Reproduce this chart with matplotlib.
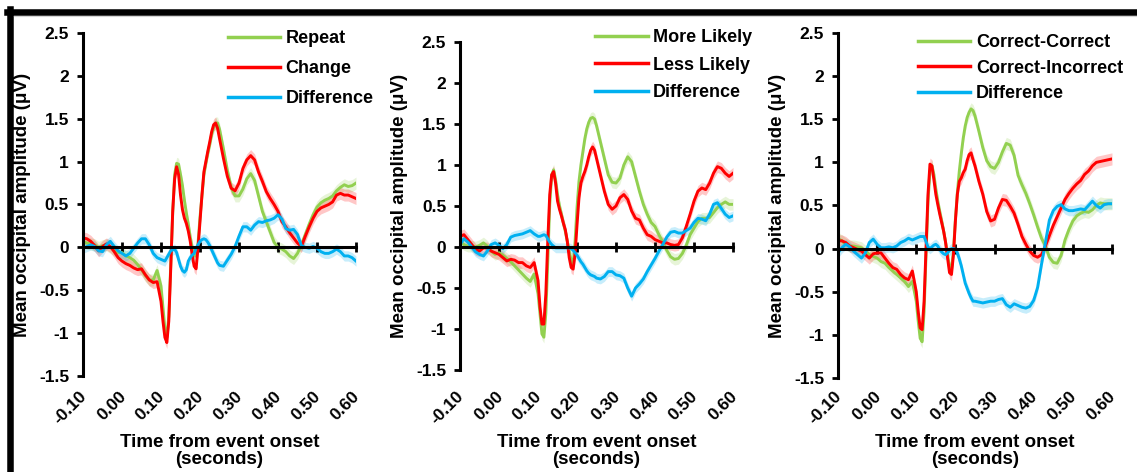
import numpy as np
import matplotlib.pyplot as plt
import matplotlib.transforms as mtransforms
from matplotlib.lines import Line2D

plt.rcParams['font.family'] = ['Liberation Sans', 'DejaVu Sans']
plt.rcParams['font.weight'] = 'bold'

# time axis (s): 10 ms steps, 5 ms steps over the fast early components
time = np.concatenate([np.arange(-100, 100, 10),
                       np.arange(100, 250, 5),
                       np.arange(250, 601, 10)]) / 1000.

# ---- panel 1: Repeat / Change ----
repeat = [0.07, 0.05, 0.04, 0.03, 0.0, 0.02, 0.03, 0.0, -0.03, -0.06,
          -0.06, -0.1, -0.12, -0.15, -0.2, -0.26, -0.33, -0.38, -0.38, -0.27,
          -0.45, -0.7, -0.95, -1.05, -0.8, -0.2, 0.4, 0.85, 0.98, 0.97,
          0.85, 0.72, 0.55, 0.4, 0.27, 0.12, 0.0, -0.1, -0.1, 0.05,
          0.35, 0.6, 0.85, 0.98, 1.1, 1.2, 1.32, 1.4, 1.45, 1.45,
          1.38, 1.15, 0.9, 0.7, 0.6, 0.6, 0.68, 0.8, 0.86, 0.78,
          0.6, 0.42, 0.3, 0.18, 0.06, 0.0, -0.02, -0.05, -0.1, -0.13,
          -0.07, 0.03, 0.15, 0.27, 0.38, 0.47, 0.52, 0.55, 0.57, 0.6,
          0.66, 0.7, 0.73, 0.71, 0.72, 0.75]
change = [0.11, 0.1, 0.07, 0.02, -0.04, 0.01, 0.04, 0.01, -0.05, -0.12,
          -0.16, -0.19, -0.21, -0.24, -0.26, -0.25, -0.32, -0.38, -0.41, -0.4,
          -0.63, -0.86, -1.05, -1.11, -0.86, -0.24, 0.42, 0.8, 0.94, 0.85,
          0.61, 0.44, 0.34, 0.28, 0.19, 0.07, -0.09, -0.22, -0.25, 0.0,
          0.3, 0.61, 0.88, 1.0, 1.12, 1.23, 1.35, 1.43, 1.45, 1.39,
          1.27, 1.04, 0.83, 0.69, 0.66, 0.75, 0.92, 1.02, 1.07, 1.02,
          0.88, 0.77, 0.65, 0.57, 0.5, 0.42, 0.3, 0.24, 0.17, 0.11,
          0.05, 0.01, 0.13, 0.24, 0.34, 0.42, 0.46, 0.48, 0.5, 0.53,
          0.61, 0.63, 0.61, 0.61, 0.59, 0.57]
diff_rc = [-0.01, 0.01, 0.03, 0.01, -0.04, -0.05, 0.03, 0.07, 0.01, -0.04,
           -0.07, -0.1, -0.07, -0.01, 0.05, 0.1, 0.1, 0.03, -0.07, -0.12,
           -0.14, -0.15, -0.16, -0.12, -0.08, -0.04, -0.03, -0.02, -0.06, -0.14,
           -0.22, -0.27, -0.29, -0.26, -0.16, -0.12, -0.09, -0.07, -0.01, 0.03,
           0.07, 0.09, 0.1, 0.09, 0.06, 0.02, -0.03, -0.08, -0.13, -0.18,
           -0.21, -0.22, -0.15, -0.08, 0.01, 0.13, 0.24, 0.24, 0.2, 0.26,
           0.3, 0.29, 0.31, 0.32, 0.34, 0.38, 0.33, 0.22, 0.2, 0.21,
           0.15, 0.02, 0.0, -0.01, 0.01, -0.01, -0.05, -0.07, -0.07, -0.05,
           -0.02, -0.05, -0.1, -0.1, -0.12, -0.16]

# ---- panel 2: More Likely / Less Likely ----
more_likely = [0.07, 0.03, 0.01, 0.01, 0.0, 0.02, 0.05, 0.01, -0.05, -0.09,
               -0.07, -0.1, -0.14, -0.18, -0.23, -0.28, -0.33, -0.38, -0.42, -0.33,
               -0.57, -0.81, -1.06, -1.1, -0.81, -0.17, 0.52, 0.88, 0.94, 0.82,
               0.64, 0.5, 0.4, 0.29, 0.19, 0.07, -0.05, -0.17, -0.21, 0.07,
               0.48, 0.8, 1.0, 1.16, 1.32, 1.44, 1.52, 1.57, 1.58, 1.56,
               1.48, 1.28, 1.08, 0.88, 0.79, 0.78, 0.84, 1.0, 1.1, 1.04,
               0.86, 0.68, 0.52, 0.4, 0.3, 0.25, 0.15, 0.06, -0.04, -0.12,
               -0.15, -0.14, -0.08, 0.02, 0.15, 0.23, 0.31, 0.35, 0.35, 0.36,
               0.42, 0.48, 0.52, 0.55, 0.52, 0.52]
less_likely = [0.13, 0.15, 0.09, 0.03, -0.03, -0.05, -0.01, -0.01, -0.05, -0.07,
               -0.09, -0.13, -0.17, -0.15, -0.16, -0.19, -0.19, -0.23, -0.25, -0.19,
               -0.41, -0.73, -0.94, -0.94, -0.57, 0.07, 0.64, 0.88, 0.92, 0.78,
               0.56, 0.46, 0.38, 0.29, 0.21, 0.07, -0.13, -0.25, -0.27, -0.09,
               0.27, 0.6, 0.78, 0.86, 0.92, 1.0, 1.1, 1.18, 1.22, 1.18,
               1.08, 0.88, 0.68, 0.52, 0.46, 0.5, 0.6, 0.64, 0.58, 0.44,
               0.35, 0.33, 0.23, 0.15, 0.13, 0.09, 0.07, 0.05, 0.05, 0.03,
               0.02, 0.03, 0.11, 0.25, 0.4, 0.56, 0.68, 0.72, 0.7, 0.78,
               0.9, 0.98, 0.96, 0.9, 0.86, 0.9]
diff_ml = [0.03, 0.1, 0.06, 0.0, -0.06, -0.09, -0.11, -0.05, 0.03, 0.05,
           0.02, -0.02, 0.03, 0.12, 0.14, 0.15, 0.16, 0.18, 0.2, 0.16,
           0.13, 0.13, 0.14, 0.15, 0.14, 0.1, 0.06, 0.03, 0.01, -0.01,
           -0.01, -0.01, -0.01, -0.01, -0.01, -0.01, -0.01, -0.02, -0.04, -0.07,
           -0.1, -0.14, -0.18, -0.21, -0.25, -0.29, -0.32, -0.34, -0.35, -0.36,
           -0.38, -0.39, -0.36, -0.3, -0.3, -0.34, -0.35, -0.38, -0.5, -0.6,
           -0.5, -0.45, -0.39, -0.3, -0.22, -0.14, -0.05, 0.03, 0.12, 0.18,
           0.19, 0.17, 0.17, 0.2, 0.23, 0.3, 0.35, 0.34, 0.32, 0.4,
           0.52, 0.54, 0.47, 0.4, 0.36, 0.38]

# ---- panel 3: Correct-Correct / Correct-Incorrect ----
corr_corr = [0.12, 0.09, 0.05, 0.03, 0.03, 0.02, 0.01, -0.03, -0.07, -0.09,
             -0.11, -0.15, -0.17, -0.22, -0.26, -0.3, -0.34, -0.38, -0.44, -0.38,
             -0.61, -0.84, -1.04, -1.08, -0.73, -0.07, 0.55, 0.9, 0.96, 0.86,
             0.69, 0.55, 0.43, 0.32, 0.2, 0.07, -0.07, -0.22, -0.24, -0.03,
             0.34, 0.65, 0.9, 1.1, 1.28, 1.42, 1.52, 1.58, 1.62, 1.6,
             1.54, 1.36, 1.17, 1.02, 0.95, 0.93, 1.0, 1.12, 1.22, 1.2,
             1.08, 0.85, 0.74, 0.64, 0.52, 0.39, 0.25, 0.12, 0.03, -0.1,
             -0.16, -0.17, -0.08, 0.1, 0.22, 0.32, 0.38, 0.41, 0.43, 0.42,
             0.45, 0.5, 0.53, 0.52, 0.52, 0.52]
corr_incorr = [0.09, 0.09, 0.07, 0.03, 0.01, -0.01, -0.03, -0.07, -0.11, -0.06,
               -0.05, -0.05, -0.11, -0.17, -0.22, -0.24, -0.3, -0.34, -0.36, -0.26,
               -0.5, -0.73, -0.92, -0.94, -0.61, 0.01, 0.63, 0.98, 0.96, 0.8,
               0.63, 0.51, 0.4, 0.3, 0.2, 0.07, -0.11, -0.28, -0.3, -0.07,
               0.32, 0.63, 0.78, 0.82, 0.88, 0.92, 1.02, 1.09, 1.11, 1.03,
               0.96, 0.78, 0.63, 0.43, 0.32, 0.34, 0.47, 0.57, 0.56, 0.49,
               0.41, 0.28, 0.14, 0.05, -0.03, -0.08, -0.1, -0.07, 0.03, 0.15,
               0.27, 0.37, 0.47, 0.57, 0.64, 0.7, 0.75, 0.79, 0.86, 0.9,
               0.96, 1.0, 1.01, 1.02, 1.03, 1.04]
diff_cc = [-0.05, 0.01, 0.05, 0.02, -0.03, -0.07, -0.11, -0.05, 0.07, 0.11,
           0.05, 0.01, 0.01, 0.02, 0.01, 0.03, 0.07, 0.09, 0.12, 0.1,
           0.12, 0.13, 0.14, 0.14, 0.14, 0.08, 0.02, 0.0, 0.02, 0.04,
           0.05, 0.03, -0.01, -0.04, -0.06, -0.07, -0.05, -0.02, 0.0, 0.0,
           -0.01, -0.05, -0.12, -0.2, -0.3, -0.4, -0.46, -0.52, -0.57, -0.61,
           -0.61, -0.62, -0.63, -0.62, -0.61, -0.61, -0.59, -0.58, -0.65, -0.68,
           -0.64, -0.66, -0.68, -0.69, -0.67, -0.6, -0.45, -0.18, 0.07, 0.33,
           0.44, 0.49, 0.51, 0.46, 0.44, 0.44, 0.45, 0.46, 0.45, 0.5,
           0.55, 0.5, 0.47, 0.51, 0.52, 0.52]

# approximate standard error of each curve (shaded band)
sem_cond = 0.07
sem_diff = 0.06

xticks = [-0.1, 0.0, 0.1, 0.2, 0.3, 0.4, 0.5, 0.6]
xtick_labels = ["-0.10", "0.00", "0.10", "0.20", "0.30", "0.40", "0.50", "0.60"]
yticks = [-1.5, -1.0, -0.5, 0.0, 0.5, 1.0, 1.5, 2.0, 2.5]
ytick_labels = ["-1.5", "-1", "-0.5", "0", "0.5", "1", "1.5", "2", "2.5"]

GREEN, RED, BLUE = "#92D050", "#FF0000", "#00B0F0"

panels = [
    dict(rect=[0.0730, 0.2034, 0.2401, 0.7267], series=[repeat, change, diff_rc],
         names=["Repeat", "Change", "Difference"], leg=(0.531, 1.008), spacing=0.71),
    dict(rect=[0.4046, 0.2161, 0.2401, 0.6949], series=[more_likely, less_likely, diff_ml],
         names=["More Likely", "Less Likely", "Difference"], leg=(0.495, 1.040), spacing=0.59),
    dict(rect=[0.7370, 0.1992, 0.2410, 0.7309], series=[corr_corr, corr_incorr, diff_cc],
         names=["Correct-Correct", "Correct-Incorrect", "Difference"], leg=(0.292, 0.997), spacing=0.48),
]

fig = plt.figure(figsize=(11.37, 4.72), dpi=100)

for p in panels:
    ax = fig.add_axes(p["rect"])
    handles = []
    for vals, col, name, sem in zip(p["series"], [GREEN, RED, BLUE], p["names"],
                                    [sem_cond, sem_cond, sem_diff]):
        v = np.array(vals)
        ax.fill_between(time, v - sem, v + sem, color=col, alpha=0.22, lw=0)
        ln, = ax.plot(time, v, color=col, lw=2.1, label=name)
        handles.append(ln)

    ax.set_xlim(-0.1, 0.6)
    ax.set_ylim(-1.5, 2.5)
    ax.spines['top'].set_visible(False)
    ax.spines['right'].set_visible(False)
    ax.spines['bottom'].set_position(('data', 0))
    ax.spines['left'].set_linewidth(2.2)
    ax.spines['bottom'].set_linewidth(2.2)

    ax.set_yticks(yticks)
    ax.set_yticklabels(ytick_labels)
    ax.tick_params(axis='y', direction='out', length=4, width=2, pad=6, labelsize=12.5)
    ax.set_xticks(xticks)
    ax.tick_params(axis='x', direction='inout', length=7, width=2, labelbottom=False)

    # tick labels sit below the plot, rotated
    trans = mtransforms.blended_transform_factory(ax.transData, fig.transFigure)
    for t, lab in zip(xticks, xtick_labels):
        ax.text(t + 0.004, 0.165, lab, transform=trans, rotation=45,
                rotation_mode='anchor', ha='right', va='center', fontsize=12.5)

    ax.text(-0.22, 0.5, "Mean occipital amplitude (\u03bcV)", transform=ax.transAxes,
            rotation=90, ha='center', va='center', fontsize=13.5)
    tlab = mtransforms.blended_transform_factory(ax.transAxes, fig.transFigure)
    ax.text(0.5, 0.045, "Time from event onset\n(seconds)", transform=tlab,
            ha='center', va='center', fontsize=13.5, linespacing=1.02)

    ax.legend(handles=handles, loc='upper left', bbox_to_anchor=p["leg"], frameon=False,
              borderpad=0, borderaxespad=0, handlelength=2.9, handletextpad=0.3,
              labelspacing=p["spacing"], prop={'size': 13, 'weight': 'bold'})
    for lh in ax.get_legend().get_lines():
        lh.set_linewidth(2.5)

# frame around the figure (top and left edges)
fig.add_artist(Line2D([0.006, 1.0], [0.9752, 0.9752], transform=fig.transFigure,
                      color='black', lw=4.7))
fig.add_artist(Line2D([0.0088, 0.0088], [0.0, 0.98], transform=fig.transFigure,
                      color='black', lw=4.7))
fig.add_artist(Line2D([0.012, 1.0], [0.966, 0.966], transform=fig.transFigure,
                      color='#d4d4d4', lw=0.8))

fig.savefig("out.png", dpi=100)
